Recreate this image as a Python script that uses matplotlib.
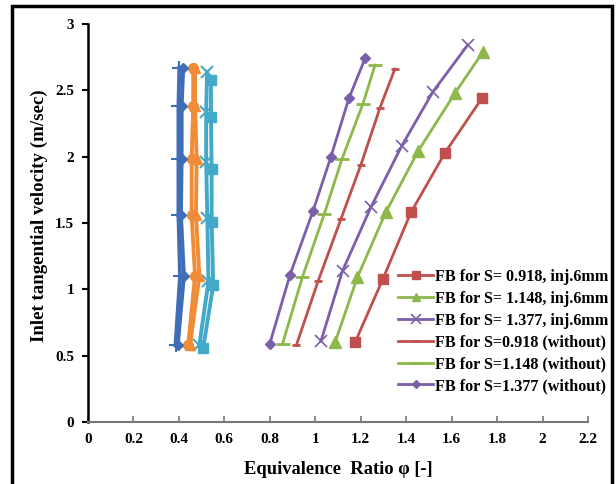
import matplotlib
matplotlib.use("Agg")
import matplotlib.pyplot as plt
from matplotlib.patches import Rectangle

plt.rcParams['font.family'] = ['Liberation Serif', 'DejaVu Serif']
plt.rcParams['font.weight'] = 'bold'

# ---- data ----
# right-hand group, with injector 6 mm
phi_s0918_inj = [1.175, 1.298, 1.421, 1.571, 1.733]
v_s0918_inj = [0.60, 1.08, 1.58, 2.03, 2.44]
phi_s1148_inj = [1.087, 1.185, 1.31, 1.452, 1.615, 1.738]
v_s1148_inj = [0.60, 1.09, 1.58, 2.04, 2.48, 2.79]
phi_s1377_inj = [1.025, 1.12, 1.245, 1.38, 1.518, 1.67]
v_s1377_inj = [0.61, 1.14, 1.62, 2.08, 2.49, 2.84]
# right-hand group, without injector
phi_s0918_wo = [0.917, 1.012, 1.113, 1.201, 1.285, 1.35]
v_s0918_wo = [0.58, 1.06, 1.53, 1.94, 2.37, 2.66]
phi_s1148_wo = [0.856, 0.943, 1.04, 1.117, 1.21, 1.263]
v_s1148_wo = [0.59, 1.09, 1.57, 1.98, 2.40, 2.69]
phi_s1377_wo = [0.80, 0.889, 0.99, 1.069, 1.148, 1.219]
v_s1377_wo = [0.59, 1.11, 1.59, 2.00, 2.44, 2.74]

# left-hand cluster (not listed in the legend)
v_left = [0.58, 1.10, 1.56, 1.98, 2.38, 2.67]
phi_blue_d = [0.395, 0.422, 0.409, 0.412, 0.412, 0.419]
phi_blue_p = [0.385, 0.405, 0.398, 0.398, 0.398, 0.402]
phi_orange_c = [0.441, 0.471, 0.456, 0.456, 0.463, 0.463]
phi_orange_t = [0.449, 0.49, 0.475, 0.478, 0.471, 0.471]
v_cyan = [0.56, 1.03, 1.51, 1.91, 2.30, 2.58]
phi_cyan_s = [0.507, 0.551, 0.544, 0.544, 0.541, 0.541]
v_cyan_x = [0.58, 1.06, 1.54, 1.96, 2.34, 2.64]
phi_cyan_x = [0.49, 0.53, 0.525, 0.52, 0.52, 0.524]

labels = ["FB for S= 0.918, inj.6mm", "FB for S= 1.148, inj.6mm",
          "FB for S= 1.377, inj.6mm", "FB for S=0.918 (without)",
          "FB for S=1.148 (without)", "FB for S=1.377 (without)"]
x_ticks = [0, 0.2, 0.4, 0.6, 0.8, 1, 1.2, 1.4, 1.6, 1.8, 2, 2.2]
y_ticks = [0, 0.5, 1, 1.5, 2, 2.5, 3]

RED, GREEN, PURPLE = '#C0504D', '#8DB84A', '#7B5FA8'
BLUE, ORANGE, CYAN = '#3F6DB8', '#F08C36', '#43A9C9'

fig = plt.figure(figsize=(6.16, 4.84), dpi=100)
ax = fig.add_axes([88/616, 1-422/484, 500/616, 398/484])

# left cluster
lwL = 2.8
ax.plot(phi_cyan_x, v_cyan_x, color=CYAN, lw=lwL, marker='x', ms=8, mew=1.5)
ax.plot(phi_cyan_s, v_cyan, color=CYAN, lw=lwL, marker='s', ms=7)
ax.plot(phi_orange_t, v_left, color=ORANGE, lw=lwL, marker='^', ms=7)
ax.plot(phi_orange_c, v_left, color=ORANGE, lw=lwL, marker='o', ms=7)
ax.plot(phi_blue_p, v_left, color=BLUE, lw=lwL, marker='+', ms=10, mew=1.5)
ax.plot(phi_blue_d, v_left, color=BLUE, lw=lwL, marker='D', ms=5)

lw = 2.0
ax.plot(phi_s0918_inj, v_s0918_inj, color=RED, lw=lw, marker='s', ms=7, label=labels[0])
ax.plot(phi_s1148_inj, v_s1148_inj, color=GREEN, lw=lw, marker='^', ms=8, label=labels[1])
ax.plot(phi_s1377_inj, v_s1377_inj, color=PURPLE, lw=lw, marker='x', ms=9, mew=1.2, label=labels[2])
ax.plot(phi_s0918_wo, v_s0918_wo, color=RED, lw=lw, marker='_', ms=6, mew=2, label=labels[3])
ax.plot(phi_s1148_wo, v_s1148_wo, color=GREEN, lw=lw, marker='_', ms=10, mew=2, label=labels[4])
ax.plot(phi_s1377_wo, v_s1377_wo, color=PURPLE, lw=lw, marker='D', ms=5.5, label=labels[5])

ax.set_xlim(0, 2.2)
ax.set_ylim(0, 3)
ax.set_xticks(x_ticks)
ax.set_xticklabels([f"{t:g}" for t in x_ticks])
ax.set_yticks(y_ticks)
ax.set_yticklabels([f"{t:g}" for t in y_ticks])
for s in ['top', 'right']:
    ax.spines[s].set_visible(False)
ax.spines['left'].set_linewidth(1.8)
ax.spines['left'].set_color('black')
ax.spines['bottom'].set_linewidth(1.5)
ax.spines['bottom'].set_color('#777777')
ax.tick_params(axis='x', direction='in', length=4, width=1.2, color='#777777',
               labelsize=11, pad=8)
ax.tick_params(axis='y', direction='out', length=4, width=1.5, labelsize=11, pad=6)
for t in ax.get_xticklabels() + ax.get_yticklabels():
    t.set_fontweight('bold')

ax.set_xlabel("Equivalence  Ratio φ [-]", fontsize=13.3, fontweight='bold')
ax.xaxis.set_label_coords(0.5, -(469 - 422) / 398, transform=ax.transAxes)
ax.xaxis.label.set_va('center')
ax.set_ylabel("Inlet tangential velocity (m/sec)", fontsize=13.6, fontweight='bold')
ax.yaxis.set_label_coords(-(88 - 39) / 500, (422 - 216) / 398, transform=ax.transAxes)
ax.yaxis.label.set_va('center')

leg = ax.legend(loc='upper left', bbox_to_anchor=(398/616, 1-269/484),
                bbox_transform=fig.transFigure, frameon=False,
                prop={'family': 'Liberation Serif', 'weight': 'bold', 'size': 11.6},
                handlelength=2.2, handletextpad=0.1, labelspacing=0.36,
                borderpad=0, borderaxespad=0, markerscale=0.8)

fig.patches.append(Rectangle((12/616, -0.05), 600/616, 1.05 - 6/484,
                             transform=fig.transFigure, fill=False,
                             edgecolor='black', lw=2.5, clip_on=False))

fig.savefig("out.png", dpi=100)
